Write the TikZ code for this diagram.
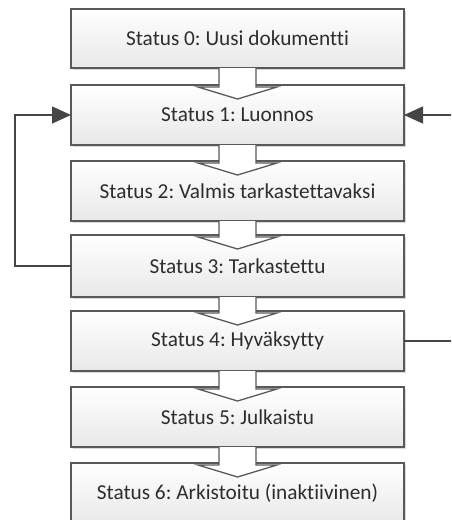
\documentclass[tikz,border=0pt]{standalone}
\usepackage{fontspec}
\setmainfont{Carlito}[Ligatures=NoCommon]
\usetikzlibrary{calc,arrows.meta,shadows}

\definecolor{edgegray}{HTML}{595959}
\definecolor{linegray}{HTML}{454545}
\definecolor{textgray}{HTML}{2E2E2E}

\tikzset{
  statusbox/.style={
    draw=edgegray, line width=1.5pt,
    top color=white, bottom color=black!9,
    minimum width=333pt, minimum height=59pt,
    inner sep=0pt, outer sep=0pt,
    font=\fontsize{21.3}{25}\selectfont, text=textgray,
    drop shadow={shadow xshift=2pt, shadow yshift=-2pt, opacity=0.25, fill=black!60}
  },
  blockarrow/.style={draw=edgegray, line width=1.3pt, fill=white, line join=miter},
  flow/.style={draw=linegray, line width=1.4pt},
  flowarrow/.style={flow, -{Triangle[length=19pt,width=17pt]}}
}

% draws a hollow block arrow from the bottom of #1 into the top of #2
\newcommand{\blockconnect}[2]{%
  \filldraw[blockarrow]
    ($(#1.south)+(-18.5,0)$) -- ($(#2.north)+(-18.5,2)$)
    -- ($(#2.north)+(-39.5,2)$) -- ($(#2.north)+(0,14)$)
    -- ($(#2.north)+(39.5,2)$) -- ($(#2.north)+(18.5,2)$)
    -- ($(#1.south)+(18.5,0)$);%
}

\begin{document}
\frenchspacing
\begin{tikzpicture}[x=1pt,y=-1pt]
  \useasboundingbox (0,0) rectangle (451,520);
  \clip (0,0) rectangle (451,520);

  \node[statusbox, minimum height=59pt] (s0) at (237.5,38.5) {Status 0: Uusi dokumentti};
  \node[statusbox, minimum height=60pt] (s1) at (237.5,115) {Status 1: Luonnos};
  \node[statusbox, minimum height=60pt] (s2) at (237.5,191) {Status 2: Valmis tarkastettavaksi};
  \node[statusbox, minimum height=62pt] (s3) at (237.5,266) {Status 3: Tarkastettu};
  \node[statusbox, minimum height=60pt] (s4) at (237.5,341) {Status 4: Hyväksytty};
  \node[statusbox, minimum height=60pt] (s5) at (237.5,417) {Status 5: Julkaistu};
  \node[statusbox, minimum height=60pt] (s6) at (237.5,493) {Status 6: Arkistoitu (inaktiivinen)};

  \blockconnect{s0}{s1}
  \blockconnect{s1}{s2}
  \blockconnect{s2}{s3}
  \blockconnect{s3}{s4}
  \blockconnect{s4}{s5}
  \blockconnect{s5}{s6}

  % return path from Tarkastettu back to Luonnos
  \coordinate (loopx) at (15,0);
  \draw[flowarrow] (s3.west) -- (s3.west -| loopx) |- (s1.west);

  % incoming edge from the right into Luonnos
  \coordinate (rightin) at (452,115);
  \draw[flowarrow] (rightin) -- (s1.east);

  % outgoing edge from Hyväksytty to the right
  \coordinate (rightout) at (452,0);
  \draw[flow] (s4.east) -- (s4.east -| rightout);
\end{tikzpicture}
\end{document}
